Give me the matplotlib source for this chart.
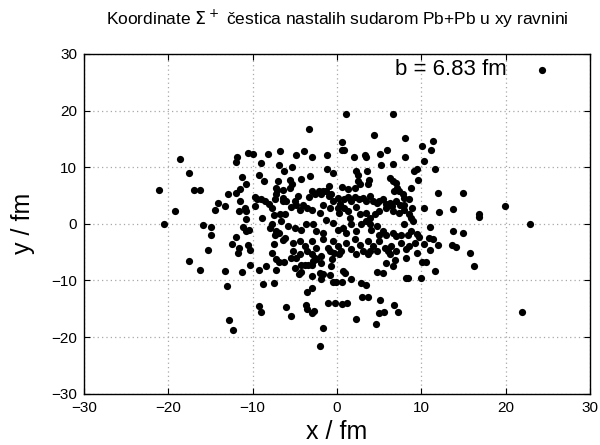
import matplotlib
matplotlib.use("Agg")
import matplotlib.pyplot as plt

plt.rcParams['font.family'] = ['Liberation Sans', 'DejaVu Sans']

# ---- data (x / fm, y / fm) ----
outer_pts = [(-18.6, 11.5), (-11.8, 11.8), (-10.5, 12.5), (-10.0, 12.3), (-8.2, 12.4), (-6.7, 12.8),
             (1.1, 19.4), (6.7, 19.4), (-3.3, 16.8), (4.35, 15.7), (8.1, 15.2), (0.55, 14.5),
             (0.55, 13.1), (0.8, 13.1), (-4.9, 12.2), (-3.9, 12.9), (-3.0, 11.8), (-1.15, 12.2),
             (2.0, 11.8), (3.3, 12.2), (3.5, 11.8), (5.1, 12.3), (6.0, 13.1), (8.1, 11.8),
             (24.3, 27.2), (10.1, 13.7), (11.35, 14.6), (11.2, 13.1)]

left_pts = [(-12.0, 10.9), (-17.5, 9.0), (-21.1, 5.9), (-17.0, 6.05), (-16.2, 5.9), (-19.2, 2.35),
            (-20.55, -0.1), (-15.9, -0.2), (-14.9, -0.6), (-14.9, -1.9), (-15.3, -4.7), (-14.5, 2.5),
            (-14.15, 3.6), (-13.3, 3.2), (-12.9, 5.3), (-12.0, 5.5), (-11.5, 6.2), (-10.75, 7.1),
            (-11.2, 8.3), (-11.5, 4.0), (-11.6, 2.35), (-10.95, 2.8), (-10.8, 2.2), (-10.8, 0.9),
            (-11.1, -0.5), (-10.8, -1.3), (-10.4, -1.0), (-12.0, -2.35), (-12.45, -3.5), (-11.6, -4.2),
            (-10.5, -3.65), (-10.35, -4.6), (-11.7, -5.1), (-9.0, 10.8), (-6.9, 10.3), (-6.3, 9.3),
            (-9.2, 8.7), (-8.7, 7.5), (-7.0, 7.6), (-7.2, 6.35), (-7.1, 5.9), (-7.2, 5.2), (-9.7, 4.7),
            (-9.45, 4.3), (-9.05, 4.3), (-8.5, 4.0), (-8.0, 3.5), (-7.35, 4.35), (-6.4, 4.0), (-9.7, 3.1),
            (-7.75, 2.8), (-8.9, 1.05), (-7.5, 1.5), (-6.7, 1.65), (-7.7, -0.1), (-7.9, -0.8), (-7.2, -1.3),
            (-6.9, -1.7), (-7.3, -1.9), (-6.4, -2.9), (-7.5, -3.5), (-7.7, -5.1)]

upper_center_pts = [(-5.3, 10.0), (-3.2, 8.5), (-1.2, 9.6), (-0.5, 9.0), (2.3, 9.3), (2.5, 8.7),
                    (3.55, 9.4), (5.25, 10.35), (6.6, 10.6), (-5.6, 7.8), (-5.3, 7.0), (-5.6, 6.35),
                    (-4.2, 7.9), (-6.4, 5.9), (2.5, 7.6), (2.7, 6.95), (2.2, 6.35), (3.8, 7.8), (3.7, 7.0),
                    (0.6, 6.5), (1.3, 6.2), (-0.9, 6.6), (6.25, 8.1), (6.65, 7.6), (7.0, 7.2), (7.1, 6.35),
                    (6.8, 5.75), (7.4, 5.75), (7.8, 5.3), (8.0, 4.6), (8.8, 6.35)]

core_pts = [(-6.4, 4.6), (-6.0, 4.0), (-5.0, 4.0), (-4.6, 4.9), (-4.0, 3.4), (-3.3, 4.7), (-2.9, 5.75),
            (-2.65, 5.3), (-2.1, 5.75), (-1.85, 5.2), (-1.65, 5.75), (-1.25, 5.75), (-0.95, 4.9),
            (-0.65, 5.3), (-0.5, 4.0), (0.1, 4.6), (0.4, 3.5), (0.9, 4.3), (1.3, 4.7), (1.7, 4.0),
            (2.1, 4.7), (2.6, 4.3), (3.1, 4.6), (3.5, 4.0), (3.9, 4.9), (4.3, 4.0), (4.7, 3.7),
            (5.05, 4.0), (5.45, 4.3), (5.85, 3.5), (6.25, 3.7), (6.55, 3.1), (7.05, 4.0), (7.5, 3.4),
            (8.0, 3.4),
            (-6.2, 1.65), (-5.4, 2.95), (-4.8, 3.4), (-4.4, 2.5), (-3.6, 2.8), (-3.0, 2.5), (-2.05, 1.95),
            (-1.65, 3.4), (-0.85, 2.8), (0.1, 2.8), (0.3, 1.95), (0.9, 2.8), (1.3, 2.25), (1.5, 1.05),
            (2.3, 2.95), (2.7, 1.65), (3.5, 1.95), (3.9, 1.05), (4.5, 1.65), (5.05, 2.25), (5.8, 2.8),
            (6.65, 2.25), (7.35, 1.95), (8.0, 2.5),
            (-6.6, 0.5), (-5.8, -0.4), (-5.0, -0.7), (-4.2, -1.0), (-3.7, 0.0), (-2.85, -0.1),
            (-2.45, -1.3), (-1.65, -1.6), (-1.25, 0.75), (-0.5, 0.2), (0.1, -1.0), (0.7, -0.7),
            (1.1, -1.6), (1.7, -0.1), (2.3, -1.3), (2.9, -0.1), (3.5, 0.5), (3.9, -0.1), (4.1, -1.0),
            (4.7, -0.4), (5.05, -1.9), (5.45, -1.3), (5.85, -1.9), (6.65, -1.6), (7.05, -2.2),
            (7.6, -1.9), (8.0, -0.1), (8.4, -1.9),
            (-6.2, -2.5), (-5.2, -3.35), (-4.4, -3.05), (-3.8, -3.95), (-3.6, -4.8), (-3.0, -3.05),
            (-2.45, -4.25), (-1.65, -2.75), (-1.05, -4.25), (-0.5, -3.05), (0.1, -3.95), (0.5, -4.8),
            (1.1, -3.35), (1.7, -4.5), (2.1, -2.75), (2.7, -3.65), (3.1, -4.8), (3.7, -3.05),
            (4.3, -3.95), (4.7, -4.8), (5.05, -3.05), (5.65, -4.25), (6.45, -3.95), (7.05, -4.8),
            (7.6, -3.35), (8.2, -4.5)]

right_pts = [(10.3, 11.1), (9.2, 9.4), (9.5, 9.65), (11.6, 9.65), (9.6, 7.8), (12.0, 5.5), (14.9, 5.5),
             (8.6, 4.4), (8.85, 2.8), (10.3, 2.8), (12.1, 2.1), (13.8, 2.7), (16.8, 1.65), (16.9, 1.25),
             (19.9, 3.1), (22.9, 0.0), (8.6, 1.65), (8.8, 1.05), (9.0, 0.5), (11.1, -0.6), (8.8, -1.3),
             (9.5, -1.8), (9.7, -2.35), (10.95, -2.5), (11.45, -2.7), (13.8, -1.3), (14.9, -1.65),
             (9.3, -3.35), (10.3, -3.5), (8.6, -3.9), (12.0, -3.8), (13.7, -3.65), (14.1, -4.1),
             (11.0, -4.7), (15.8, -5.2), (9.5, -5.2),
             (10.1, -6.7), (10.6, -6.7), (11.6, -8.35), (16.3, -7.5), (10.0, -9.5), (22.0, -15.5)]

lower_left_pts = [(-17.6, -6.5), (-16.25, -8.2), (-13.3, -8.35), (-11.2, -8.5), (-10.3, -7.3),
                  (-13.0, -11.0), (-12.8, -17.0), (-12.3, -18.65), (-9.2, -8.2), (-8.4, -7.5),
                  (-7.25, -6.2), (-6.85, -6.7), (-6.25, -6.75), (-7.2, -8.2), (-8.8, -10.6),
                  (-7.5, -10.4), (-9.3, -14.5), (-9.05, -15.6)]

lower_center_pts = [(-5.2, -4.8), (-4.4, -5.4), (-3.0, -5.4), (-2.65, -6.0), (-1.85, -5.6), (-0.85, -4.8),
                    (-0.3, -5.2), (0.3, -5.4), (2.3, -5.3), (3.7, -5.4), (3.9, -4.8), (6.05, -4.8),
                    (6.25, -5.4), (8.2, -6.0),
                    (-5.4, -6.0), (-4.8, -6.0), (-4.2, -7.2), (-3.8, -7.2), (-3.45, -7.2), (-3.0, -7.2),
                    (-2.85, -6.6), (-2.45, -6.2), (-1.85, -6.9), (-5.0, -7.8), (-4.2, -8.5), (-4.5, -8.8),
                    (-3.0, -9.2), (-2.05, -8.6), (-1.65, -8.9), (-1.85, -9.8), (-0.65, -7.5), (-0.55, -6.2),
                    (-0.8, -9.1), (0.7, -8.35), (1.0, -8.75), (-0.5, -10.2), (-0.1, -10.2), (0.6, -10.3),
                    (1.65, -9.7), (2.9, -10.4), (3.5, -10.8), (4.8, -8.5), (5.45, -8.65), (5.85, -7.0),
                    (6.65, -7.5), (6.85, -6.3), (8.2, -9.5), (8.45, -9.5),
                    (-3.6, -12.0), (-3.0, -11.4), (-6.0, -14.7), (-5.5, -16.2), (-3.7, -14.35),
                    (-3.6, -15.1), (-2.9, -15.8), (-2.7, -15.4), (-1.6, -18.4), (-2.05, -21.5),
                    (-1.0, -13.9), (-0.25, -14.0), (0.55, -14.2), (1.2, -13.9), (3.0, -12.9), (3.7, -12.9),
                    (2.3, -16.8), (4.6, -17.6), (5.1, -13.4), (5.0, -15.8), (5.6, -15.5), (6.8, -14.35),
                    (7.3, -15.6)]

tick_vals = [-30, -20, -10, 0, 10, 20, 30]
title_text = r"Koordinate $\Sigma^+$ čestica nastalih sudarom Pb+Pb u xy ravnini"
impact_text = "b = 6.83 fm"

all_pts = (outer_pts + left_pts + upper_center_pts + core_pts + right_pts
           + lower_left_pts + lower_center_pts)
xs = [p[0] for p in all_pts]
ys = [p[1] for p in all_pts]

fig = plt.figure(figsize=(6.0, 4.45), dpi=100)
ax = fig.add_axes([0.140, 0.115, 0.843, 0.764])

ax.scatter(xs, ys, s=27, c='black', marker='o', linewidths=0, zorder=3)

ax.set_xlim(-30, 30)
ax.set_ylim(-30, 30)
ax.set_xticks(tick_vals)
ax.set_yticks(tick_vals)
ax.grid(True, color='#a8a8a8', linestyle=(0, (1, 2.5)), linewidth=0.9)
ax.tick_params(direction='in', length=4, width=0.8, top=True, right=True,
               labelsize=11, colors='black', pad=5)
for sp in ax.spines.values():
    sp.set_linewidth(1.0)
    sp.set_color('black')

ax.set_xlabel("x / fm", fontsize=18, labelpad=4)
ax.set_ylabel("y / fm", fontsize=18, labelpad=12)
ax.text(20.1, 27.2, impact_text, fontsize=16, ha='right', va='center')
fig.text(0.562, 0.957, title_text, fontsize=12.5, ha='center', va='center',
         family=['Liberation Sans', 'DejaVu Sans'])

fig.savefig("out.png", dpi=100)
